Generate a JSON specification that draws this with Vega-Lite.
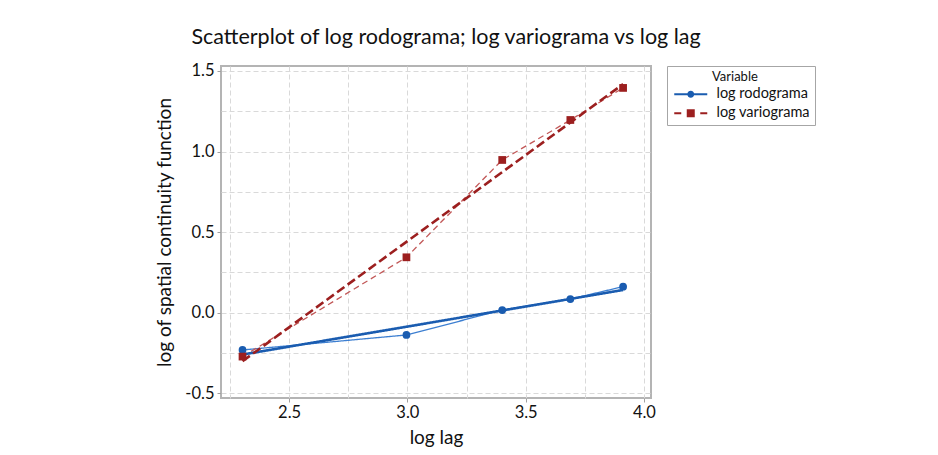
{
  "$schema": "https://vega.github.io/schema/vega-lite/v6.json",
  "width": 430,
  "height": 332,
  "autosize": "none",
  "padding": {"left": 221, "top": 66, "right": 287, "bottom": 57},
  "background": "white",
  "config": {
    "font": "Lato",
    "view": {"stroke": "#b4b4b4", "strokeWidth": 2},
    "axis": {
      "domain": false,
      "grid": true,
      "gridColor": "#d9d9d9",
      "gridDash": [5, 3],
      "gridWidth": 1,
      "tickColor": "#a0a0a0",
      "tickSize": 4,
      "labelFontSize": 16.5,
      "labelColor": "#111",
      "titleFontSize": 19,
      "titleFontWeight": "normal",
      "titleColor": "#111"
    }
  },
  "title": {
    "text": "Scatterplot of log rodograma; log variograma vs log lag",
    "fontSize": 21.5,
    "fontWeight": "normal",
    "color": "#111",
    "offset": 14,
    "dx": 10
  },
  "data": {
    "values": [
      {"lag": 2.303, "value": -0.231, "Variable": "log rodograma"},
      {"lag": 2.996, "value": -0.138, "Variable": "log rodograma"},
      {"lag": 3.401, "value": 0.017, "Variable": "log rodograma"},
      {"lag": 3.689, "value": 0.085, "Variable": "log rodograma"},
      {"lag": 3.912, "value": 0.162, "Variable": "log rodograma"},
      {"lag": 2.303, "value": -0.272, "Variable": "log variograma"},
      {"lag": 2.996, "value": 0.344, "Variable": "log variograma"},
      {"lag": 3.401, "value": 0.948, "Variable": "log variograma"},
      {"lag": 3.689, "value": 1.196, "Variable": "log variograma"},
      {"lag": 3.912, "value": 1.395, "Variable": "log variograma"}
    ]
  },
  "encoding": {
    "x": {
      "field": "lag",
      "type": "quantitative",
      "title": "log lag",
      "scale": {"domain": [2.212, 4.03], "nice": false, "zero": false},
      "axis": {
        "values": [2.25, 2.5, 2.75, 3.0, 3.25, 3.5, 3.75, 4.0],
        "labelExpr": "datum.value % 0.5 < 0.01 ? format(datum.value, '.1f') : ''",
        "tickOpacity": {"condition": {"test": "datum.value % 0.5 < 0.01", "value": 1}, "value": 0},
        "labelPadding": 2,
        "titlePadding": 8
      }
    },
    "y": {
      "field": "value",
      "type": "quantitative",
      "title": "log of spatial continuity function",
      "scale": {"domain": [-0.529, 1.531], "nice": false, "zero": false},
      "axis": {
        "values": [-0.5, -0.25, 0, 0.25, 0.5, 0.75, 1.0, 1.25, 1.5],
        "labelExpr": "abs(datum.value) % 0.5 < 0.01 ? replace(format(datum.value, '.1f'), '\u2212', '-') : ''",
        "tickOpacity": {"condition": {"test": "abs(datum.value) % 0.5 < 0.01", "value": 1}, "value": 0},
        "labelPadding": 3,
        "titlePadding": 10
      }
    }
  },
  "layer": [
    {
      "mark": {"type": "line", "strokeWidth": 1.3},
      "encoding": {
        "color": {"field": "Variable", "type": "nominal", "legend": null,
          "scale": {"domain": ["log rodograma", "log variograma"], "range": ["#3d7fd1", "#c25858"]}},
        "strokeDash": {"field": "Variable", "type": "nominal", "legend": null,
          "scale": {"domain": ["log rodograma", "log variograma"], "range": [[1, 0], [6, 4]]}}
      }
    },
    {
      "transform": [{"regression": "value", "on": "lag", "groupby": ["Variable"]}],
      "mark": {"type": "line", "strokeWidth": 2.6},
      "encoding": {
        "color": {"field": "Variable", "type": "nominal", "legend": null,
          "scale": {"domain": ["log rodograma", "log variograma"], "range": ["#1a5cb0", "#9c1f1f"]}},
        "strokeDash": {"field": "Variable", "type": "nominal", "legend": null,
          "scale": {"domain": ["log rodograma", "log variograma"], "range": [[1, 0], [9, 4]]}}
      }
    },
    {
      "mark": {"type": "point", "filled": true, "opacity": 1},
      "encoding": {
        "color": {"field": "Variable", "type": "nominal",
          "scale": {"domain": ["log rodograma", "log variograma"], "range": ["#1a5cb0", "#9c1f1f"]},
          "legend": {
            "title": "Variable",
            "orient": "right",
            "offset": 16,
            "padding": 5,
            "strokeColor": "#a6a6a6",
            "fillColor": "white",
            "titleFontSize": 13,
            "titleFontWeight": "normal",
            "titleColor": "#111",
            "titlePadding": 3,
            "labelFontSize": 14.5,
            "labelColor": "#111",
            "labelOffset": 30,
            "rowPadding": 4,
            "symbolSize": 100,
            "symbolStrokeWidth": 0,
            "symbolOpacity": 1,
            "encode": {
              "title": {"update": {"dx": {"value": 40}}},
              "symbols": {"update": {"shape": {"signal": "datum.value === 'log rodograma' ? 'M-1,-0.22H5.6V0.22H-1Z M1.6,0A0.7,0.7 0 1,1 3.0,0A0.7,0.7 0 1,1 1.6,0Z' : 'M-1,-0.22H0.4V0.22H-1Z M4.2,-0.22H5.6V0.22H4.2Z M1.5,-0.8H3.1V0.8H1.5Z'"}}}
            }
          }
        },
        "shape": {"field": "Variable", "type": "nominal", "legend": null,
          "scale": {"domain": ["log rodograma", "log variograma"], "range": ["circle", "square"]}},
        "size": {"value": 60}
      }
    }
  ],
  "resolve": {"scale": {"color": "independent", "strokeDash": "independent"}}
}
